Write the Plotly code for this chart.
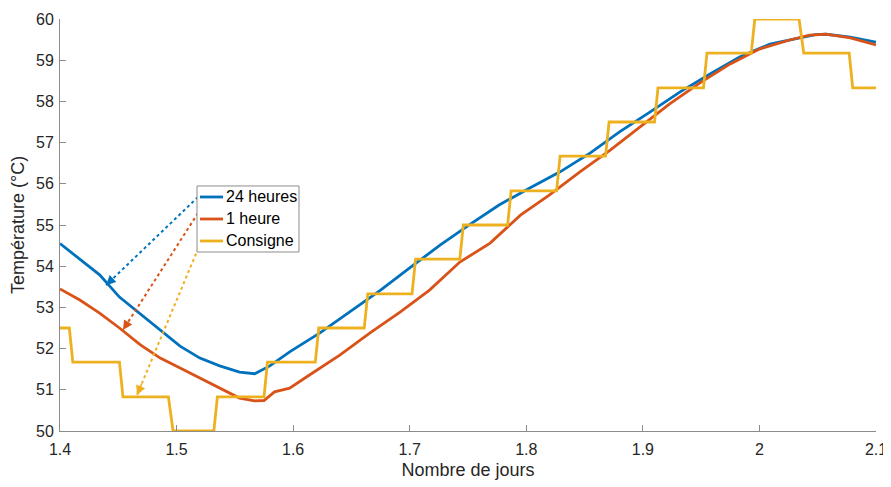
import plotly.graph_objects as go

# 24 heures
x_24h = [1.400, 1.434, 1.451, 1.469, 1.486, 1.503, 1.520, 1.537, 1.554, 1.567, 1.580, 1.597, 1.623, 1.649,
         1.675, 1.700, 1.726, 1.752, 1.777, 1.803, 1.829, 1.855, 1.880, 1.906, 1.932, 1.958, 1.983, 2.009,
         2.035, 2.048, 2.057, 2.078, 2.100]
y_24h = [54.55, 53.79, 53.25, 52.84, 52.45, 52.06, 51.77, 51.58, 51.43, 51.39, 51.58, 51.92, 52.38, 52.89,
         53.42, 53.96, 54.51, 55.02, 55.49, 55.90, 56.29, 56.75, 57.26, 57.74, 58.23, 58.67, 59.08, 59.39,
         59.54, 59.62, 59.63, 59.56, 59.44]

# 1 heure
x_1h = [1.400, 1.417, 1.434, 1.451, 1.469, 1.486, 1.503, 1.520, 1.537, 1.554, 1.567, 1.575, 1.584, 1.597,
        1.614, 1.640, 1.666, 1.692, 1.717, 1.743, 1.769, 1.795, 1.820, 1.846, 1.872, 1.897, 1.923, 1.949,
        1.975, 2.000, 2.026, 2.043, 2.057, 2.078, 2.100]
y_1h = [53.45, 53.18, 52.86, 52.50, 52.09, 51.77, 51.53, 51.29, 51.04, 50.80, 50.73, 50.74, 50.95, 51.04,
        51.36, 51.84, 52.38, 52.89, 53.42, 54.10, 54.56, 55.24, 55.73, 56.29, 56.82, 57.38, 57.94, 58.45,
        58.91, 59.27, 59.49, 59.61, 59.63, 59.54, 59.37]

# Consigne (step setpoint)
x_cons = [1.400, 1.408, 1.411, 1.451, 1.454, 1.493, 1.497, 1.532, 1.535, 1.575, 1.578, 1.619, 1.622,
          1.661, 1.664, 1.702, 1.705, 1.743, 1.746, 1.784, 1.787, 1.826, 1.829, 1.868, 1.871, 1.910,
          1.913, 1.952, 1.955, 1.993, 1.996, 2.034, 2.038, 2.077, 2.080, 2.100]
y_cons = [52.50, 52.50, 51.67, 51.67, 50.83, 50.83, 50.00, 50.00, 50.83, 50.83, 51.67, 51.67, 52.50,
          52.50, 53.33, 53.33, 54.17, 54.17, 55.00, 55.00, 55.83, 55.83, 56.67, 56.67, 57.50, 57.50,
          58.33, 58.33, 59.17, 59.17, 60.00, 60.00, 59.17, 59.17, 58.33, 58.33]

series_names = ["24 heures", "1 heure", "Consigne"]
colors = ["#0072BD", "#D95319", "#EDB120"]

# arrows: start (near legend) -> end (on curve)
arrow_x0 = [1.5184, 1.5184, 1.5227]
arrow_y0 = [55.68, 55.29, 54.71]
arrow_x1 = [1.4395, 1.4540, 1.4660]
arrow_y1 = [53.54, 52.45, 50.87]

xticks = [1.4, 1.5, 1.6, 1.7, 1.8, 1.9, 2.0, 2.1]
xtick_text = ["1.4", "1.5", "1.6", "1.7", "1.8", "1.9", "2", "2.1"]
yticks = [50, 51, 52, 53, 54, 55, 56, 57, 58, 59, 60]

fig = go.Figure()
for xs, ys, name, c in zip([x_24h, x_1h, x_cons], [y_24h, y_1h, y_cons], series_names, colors):
    fig.add_trace(go.Scatter(x=xs, y=ys, mode="lines", name=name,
                             line=dict(color=c, width=2.8), cliponaxis=False))

for x0, y0, x1, y1, c in zip(arrow_x0, arrow_y0, arrow_x1, arrow_y1, colors):
    fig.add_shape(type="line", xref="x", yref="y", x0=x0, y0=y0, x1=x1, y1=y1,
                  line=dict(color=c, width=2, dash="dot"))
    fig.add_annotation(x=x1, y=y1, ax=x1 + (x0 - x1) * 0.08, ay=y1 + (y0 - y1) * 0.08,
                       xref="x", yref="y", axref="x", ayref="y", text="", showarrow=True,
                       arrowhead=2, arrowsize=1.2, arrowwidth=1.6, arrowcolor=c)

# compact legend box (paper coordinates)
leg_x0, leg_x1, leg_ytop, leg_ybot = 0.1679, 0.2929, 0.5947, 0.4345
row_y = [0.5680, 0.5146, 0.4612]
fig.add_shape(type="rect", xref="paper", yref="paper", x0=leg_x0, x1=leg_x1, y0=leg_ybot, y1=leg_ytop,
              line=dict(color="#8c8c8c", width=1), fillcolor="white", layer="above")
for name, c, ry in zip(series_names, colors, row_y):
    fig.add_shape(type="line", xref="paper", yref="paper", x0=0.1716, x1=0.1998, y0=ry, y1=ry,
                  line=dict(color=c, width=2.8), layer="above")
    fig.add_annotation(x=0.2010, y=ry, xref="paper", yref="paper", text=name, showarrow=False,
                       xanchor="left", yanchor="middle", font=dict(size=16, color="#000000"))

font_family = "Liberation Sans, Arial, sans-serif"
# page body adds an 8px margin, so the figure is offset by 8px
fig.update_layout(
    width=883, height=479,
    margin=dict(l=52, r=15, t=11, b=56, autoexpand=False),
    plot_bgcolor="white", paper_bgcolor="white",
    font=dict(family=font_family, size=16, color="#262626"),
    showlegend=False,
    xaxis=dict(range=[1.4, 2.1], tickvals=xticks, ticktext=xtick_text, automargin=False,
               showgrid=False, zeroline=False, showline=True, linecolor="#8c8c8c", linewidth=1,
               ticks="inside", ticklen=6, tickcolor="#8c8c8c", ticklabelstandoff=4,
               tickfont=dict(size=16, color="#262626"),
               title=dict(text="Nombre de jours", font=dict(size=18, color="#262626"), standoff=6)),
    yaxis=dict(range=[50, 60], tickvals=yticks, automargin=False,
               showgrid=False, zeroline=False, showline=True, linecolor="#8c8c8c", linewidth=1,
               ticks="inside", ticklen=6, tickcolor="#8c8c8c", ticklabelstandoff=2,
               tickfont=dict(size=16, color="#262626"),
               title=dict(text="Température (°C)", font=dict(size=18, color="#262626"), standoff=6)),
)
fig.write_html("out.html")
